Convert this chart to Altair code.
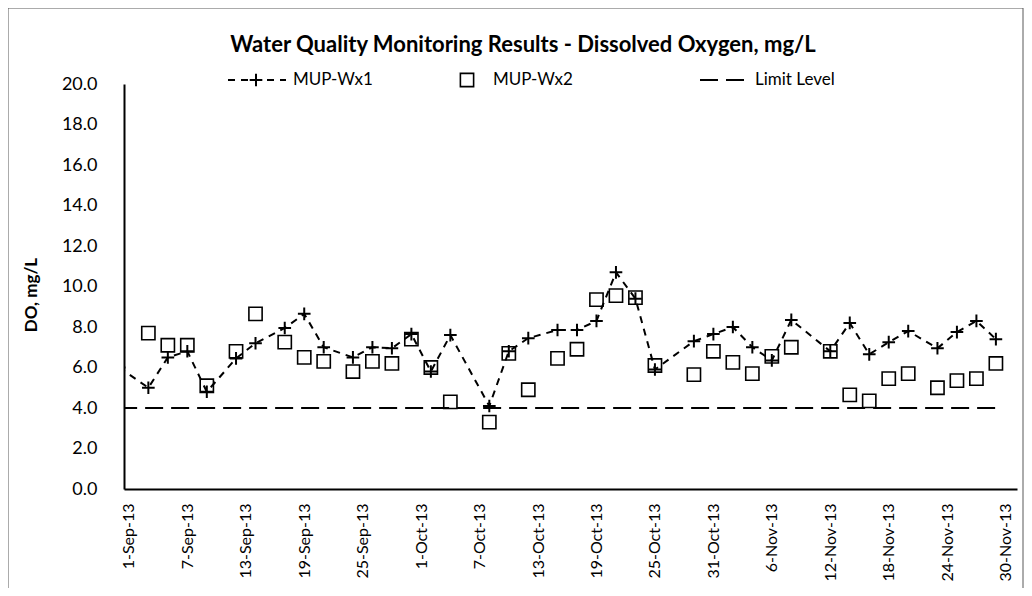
import altair as alt
import pandas as pd

# ---------------- data ----------------
wx1_dates = ["2013-08-31", "2013-09-03", "2013-09-05", "2013-09-07", "2013-09-09", "2013-09-12",
             "2013-09-14", "2013-09-17", "2013-09-19", "2013-09-21", "2013-09-24", "2013-09-26",
             "2013-09-28", "2013-09-30", "2013-10-02", "2013-10-04", "2013-10-08", "2013-10-10",
             "2013-10-12", "2013-10-15", "2013-10-17", "2013-10-19", "2013-10-21", "2013-10-23",
             "2013-10-25", "2013-10-29", "2013-10-31", "2013-11-02", "2013-11-04", "2013-11-06",
             "2013-11-08", "2013-11-12", "2013-11-14", "2013-11-16", "2013-11-18", "2013-11-20",
             "2013-11-23", "2013-11-25", "2013-11-27", "2013-11-29"]
wx1_values = [6.0, 5.0, 6.5, 6.8, 4.8, 6.45,
              7.2, 7.95, 8.65, 7.0, 6.5, 7.0,
              6.95, 7.65, 5.8, 7.6, 4.1, 6.8,
              7.45, 7.85, 7.85, 8.3, 10.7, 9.4,
              5.9, 7.3, 7.65, 8.0, 7.0, 6.35,
              8.35, 6.8, 8.2, 6.65, 7.25, 7.8,
              6.95, 7.75, 8.3, 7.4]

wx2_dates = ["2013-09-03", "2013-09-05", "2013-09-07", "2013-09-09", "2013-09-12",
             "2013-09-14", "2013-09-17", "2013-09-19", "2013-09-21", "2013-09-24", "2013-09-26",
             "2013-09-28", "2013-09-30", "2013-10-02", "2013-10-04", "2013-10-08", "2013-10-10",
             "2013-10-12", "2013-10-15", "2013-10-17", "2013-10-19", "2013-10-21", "2013-10-23",
             "2013-10-25", "2013-10-29", "2013-10-31", "2013-11-02", "2013-11-04", "2013-11-06",
             "2013-11-08", "2013-11-12", "2013-11-14", "2013-11-16", "2013-11-18", "2013-11-20",
             "2013-11-23", "2013-11-25", "2013-11-27", "2013-11-29"]
wx2_values = [7.7, 7.1, 7.1, 5.1, 6.8,
              8.65, 7.25, 6.5, 6.3, 5.8, 6.3,
              6.2, 7.4, 6.0, 4.3, 3.3, 6.7,
              4.9, 6.45, 6.9, 9.35, 9.55, 9.45,
              6.1, 5.65, 6.8, 6.25, 5.7, 6.55,
              7.0, 6.8, 4.65, 4.35, 5.45, 5.7,
              5.0, 5.35, 5.45, 6.2]

limit_dates = ["2013-08-31", "2013-11-29"]
limit_values = [4.0, 4.0]

tick_labels = ["2013-09-01", "2013-09-07", "2013-09-13", "2013-09-19", "2013-09-25", "2013-10-01",
               "2013-10-07", "2013-10-13", "2013-10-19", "2013-10-25", "2013-10-31", "2013-11-06",
               "2013-11-12", "2013-11-18", "2013-11-24", "2013-11-30"]
y_ticks = [0, 2, 4, 6, 8, 10, 12, 14, 16, 18, 20]

series_names = ["MUP-Wx1", "MUP-Wx2", "Limit Level"]
chart_title = "Water Quality Monitoring Results - Dissolved Oxygen, mg/L"
y_title = "DO, mg/L"

FONT = "Lato"


def to_dt(s):
    t = pd.Timestamp(s)
    return alt.DateTime(year=t.year, month=t.month, date=t.day)


df1 = pd.DataFrame({"date": pd.to_datetime(wx1_dates), "value": wx1_values})
df2 = pd.DataFrame({"date": pd.to_datetime(wx2_dates), "value": wx2_values})
df3 = pd.DataFrame({"date": pd.to_datetime(limit_dates), "value": limit_values})

W, H = 893, 405

xscale = alt.Scale(domain=[alt.DateTime(year=2013, month=8, date=31, hours=12),
                           alt.DateTime(year=2013, month=12, date=1, hours=4)])
yscale = alt.Scale(domain=[0, 20], nice=False, zero=True)

xaxis = alt.Axis(values=[to_dt(s) for s in tick_labels], format="%-d-%b-%y", labelAngle=-90,
                 labelFont=FONT, labelFontSize=16, labelColor="black", labelPadding=14,
                 labelOverlap=False, labelFlush=False, ticks=False, tickSize=0, grid=False,
                 domainColor="black", domainWidth=2, title=None)
yaxis = alt.Axis(values=y_ticks, format=".1f", labelFont=FONT, labelFontSize=18,
                 labelColor="black", labelPadding=27, ticks=False, tickSize=0, grid=False,
                 domainColor="black", domainWidth=2, title=y_title, titleFont=FONT,
                 titleFontSize=17, titleFontWeight="bold", titleColor="black",
                 titleX=-93, titleY=H / 2 + 8, titleAngle=-90, titleBaseline="middle", titleAlign="center")

X = alt.X("date:T", scale=xscale, axis=xaxis)
Y = alt.Y("value:Q", scale=yscale, axis=yaxis)

PLUS = "M-1,0L1,0M0,-1L0,1"

limit = alt.Chart(df3).mark_line(color="black", strokeWidth=2, strokeDash=[18, 8], clip=True).encode(x=X, y=Y)
line1 = alt.Chart(df1).mark_line(color="black", strokeWidth=2, strokeDash=[7, 6], clip=True).encode(x=X, y=Y)
pts1 = alt.Chart(df1).mark_point(shape=PLUS, size=160, filled=False, stroke="black", strokeWidth=2,
                                 opacity=1, clip=True).encode(x=X, y=Y)
pts2 = alt.Chart(df2).mark_point(shape="square", size=175, filled=False, stroke="black", strokeWidth=1.6,
                                 opacity=1, clip=True).encode(x=X, y=Y)

# ---- chart title, legend and frame (layout decorations) ----
title_df = pd.DataFrame({"t": [chart_title]})
title = alt.Chart(title_df).mark_text(font=FONT, fontSize=22, fontWeight="bold", color="black",
                                      align="center", baseline="middle").encode(
    text="t:N", x=alt.value(399), y=alt.value(-39))

leg_y = -4
leg = pd.DataFrame({"name": series_names})
leg1_line = alt.Chart(leg.iloc[[0]]).mark_rule(color="black", strokeWidth=2, strokeDash=[7, 6]).encode(
    x=alt.value(104), x2=alt.value(162), y=alt.value(leg_y))
leg1_pt = alt.Chart(leg.iloc[[0]]).mark_point(shape=PLUS, size=160, filled=False, stroke="black",
                                              strokeWidth=2, opacity=1).encode(
    x=alt.value(132), y=alt.value(leg_y))
leg1_txt = alt.Chart(leg.iloc[[0]]).mark_text(font=FONT, fontSize=17, color="black", align="left",
                                              baseline="middle").encode(
    text="name:N", x=alt.value(169), y=alt.value(leg_y))
leg2_pt = alt.Chart(leg.iloc[[1]]).mark_point(shape="square", size=175, filled=False, stroke="black",
                                              strokeWidth=1.6, opacity=1).encode(
    x=alt.value(343), y=alt.value(leg_y))
leg2_txt = alt.Chart(leg.iloc[[1]]).mark_text(font=FONT, fontSize=17, color="black", align="left",
                                              baseline="middle").encode(
    text="name:N", x=alt.value(369), y=alt.value(leg_y))
leg3_line = alt.Chart(leg.iloc[[2]]).mark_rule(color="black", strokeWidth=2, strokeDash=[18, 8]).encode(
    x=alt.value(576), x2=alt.value(628), y=alt.value(leg_y))
leg3_txt = alt.Chart(leg.iloc[[2]]).mark_text(font=FONT, fontSize=17, color="black", align="left",
                                              baseline="middle").encode(
    text="name:N", x=alt.value(631), y=alt.value(leg_y))

frame = alt.Chart(title_df).mark_rect(filled=False, stroke="#595959", strokeWidth=1).encode(
    x=alt.value(-116), x2=alt.value(899), y=alt.value(-76), y2=alt.value(600))

chart = alt.layer(
    frame, limit, line1, pts1, pts2, title,
    leg1_line, leg1_pt, leg1_txt, leg2_pt, leg2_txt, leg3_line, leg3_txt
).properties(
    width=W, height=H,
    padding={"left": 116, "top": 76, "right": 7, "bottom": 99},
    autosize=alt.AutoSizeParams(type="none"),
    background="white",
).configure_view(strokeWidth=0)

chart.save("out.html", embed_options={"renderer": "svg", "actions": False})
